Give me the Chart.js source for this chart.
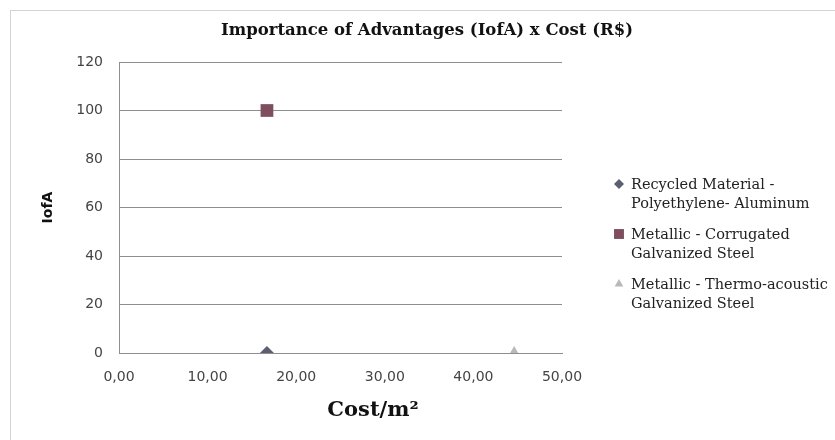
<!DOCTYPE html>
<html>
<head>
<meta charset="utf-8">
<script src="https://cdn.jsdelivr.net/npm/chart.js@4/dist/chart.umd.min.js"></script>
<style>
    body { margin: 0; background: #ffffff; }
    #wrap { width: 835px; height: 440px; }
</style>
</head>
<body>
<div id="wrap"><canvas id="myChart" width="835" height="440"></canvas></div>
<script>
// Data
const seriesNames = [
    ['Recycled Material -', 'Polyethylene- Aluminum'],
    ['Metallic - Corrugated', 'Galvanized Steel'],
    ['Metallic - Thermo-acoustic', 'Galvanized Steel']
];
const costValues = [16.7, 16.7, 44.6];
const iofaValues = [0, 100, 0];
const seriesColors = ['#5c5f70', '#7e4e5e', '#b9b9b9'];
const seriesShapes = ['rectRot', 'rect', 'triangle'];
const seriesRadius = [7, 9, 7];

const chartTitle = 'Importance of Advantages (IofA) x Cost (R$)';
const xTitle = 'Cost/m²';
const yTitle = 'IofA';

const datasets = seriesNames.map((name, i) => ({
    label: name.join(' '),
    data: [{ x: costValues[i], y: iofaValues[i] }],
    pointStyle: seriesShapes[i],
    pointRadius: seriesRadius[i],
    pointHoverRadius: seriesRadius[i],
    backgroundColor: seriesColors[i],
    borderColor: seriesColors[i],
    borderWidth: 0,
    showLine: false
}));

// Frame, title, x title and wrapped legend
const decorPlugin = {
    id: 'decor',
    beforeDraw(chart) {
        const ctx = chart.ctx;
        ctx.save();
        ctx.fillStyle = '#ffffff';
        ctx.fillRect(0, 0, chart.width, chart.height);
        ctx.strokeStyle = '#d4d4d4';
        ctx.lineWidth = 1;
        ctx.strokeRect(10.5, 10.5, 830, 435);
        ctx.restore();
    },
    afterDraw(chart) {
        const ctx = chart.ctx;
        ctx.save();
        ctx.fillStyle = '#111111';
        ctx.textAlign = 'center';
        ctx.textBaseline = 'middle';
        ctx.font = 'bold 16.5px "DejaVu Serif"';
        ctx.fillText(chartTitle, 427, 31);
        ctx.font = 'bold 21px "DejaVu Serif"';
        ctx.fillText(xTitle, 373, 411);

        ctx.textAlign = 'left';
        ctx.font = '14.5px "DejaVu Serif"';
        const tops = [185, 235, 285];
        seriesNames.forEach((lines, i) => {
            ctx.fillStyle = seriesColors[i];
            Chart.helpers.drawPoint(ctx, {
                pointStyle: seriesShapes[i],
                radius: i === 1 ? 7 : 5,
                rotation: 0,
                borderWidth: 0
            }, 619, tops[i] - 1);
            ctx.fillStyle = '#222222';
            lines.forEach((t, k) => ctx.fillText(t, 631, tops[i] + k * 19));
        });
        ctx.restore();
    }
};

const ctx = document.getElementById('myChart').getContext('2d');
const myChart = new Chart(ctx, {
    type: 'scatter',
    data: { datasets: datasets },
    options: {
        responsive: false,
        animation: false,
        layout: { padding: { left: 20, right: 273, top: 62, bottom: 0 } },
        plugins: {
            legend: { display: false },
            title: { display: false },
            tooltip: { enabled: false }
        },
        scales: {
            x: {
                type: 'linear',
                min: 0,
                max: 50,
                afterFit: (s) => { s.height = 87; },
                ticks: {
                    stepSize: 10,
                    padding: 16,
                    color: '#444444',
                    font: { family: 'DejaVu Sans', size: 14 },
                    callback: (v) => v.toFixed(2).replace('.', ',')
                },
                grid: { display: true, drawOnChartArea: false, drawTicks: false },
                border: { color: '#8e8e8e' }
            },
            y: {
                min: 0,
                max: 120,
                afterFit: (s) => { s.width = 99; },
                ticks: {
                    stepSize: 20,
                    padding: 16,
                    color: '#444444',
                    font: { family: 'DejaVu Sans', size: 14 }
                },
                grid: { color: '#8e8e8e', drawTicks: false },
                border: { color: '#8e8e8e' },
                title: {
                    display: true,
                    text: yTitle,
                    color: '#111111',
                    font: { family: 'DejaVu Sans', size: 14, weight: 'bold' },
                    padding: { top: 20, bottom: 0 }
                }
            }
        }
    },
    plugins: [decorPlugin]
});
</script>
</body>
</html>
